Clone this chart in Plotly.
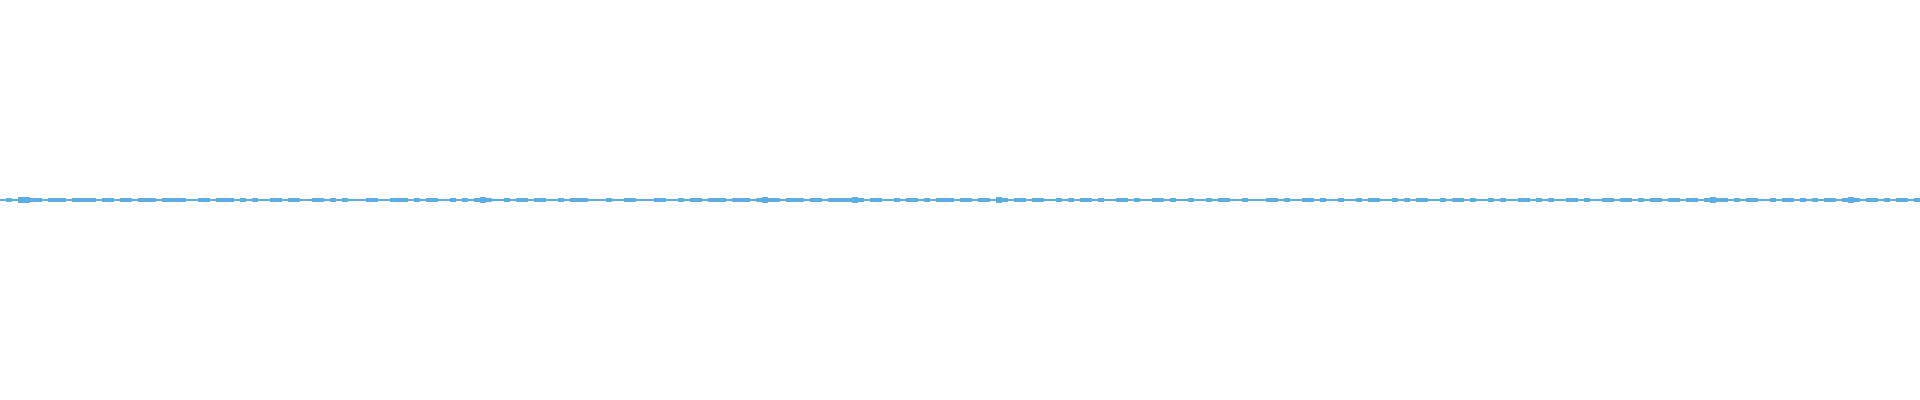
import plotly.graph_objects as go

# Waveform envelope: one peak level per 6-px bucket
# (0 = only the zero line, 1 = small tick, 2 = larger tick)
peaks = [
    0, 1, 0, 2, 2, 1, 1, 0, 1, 1, 1, 0, 1, 1, 1, 1, 0, 1, 1, 0,
    1, 1, 0, 1, 1, 1, 0, 1, 1, 1, 1, 0, 0, 1, 1, 0, 1, 1, 1, 0,
    1, 0, 1, 0, 0, 1, 1, 0, 1, 1, 0, 0, 1, 1, 0, 1, 0, 1, 0, 0,
    0, 1, 1, 0, 0, 1, 1, 1, 0, 1, 0, 1, 1, 0, 0, 1, 0, 1, 0, 1,
    2, 1, 0, 0, 1, 0, 1, 1, 0, 1, 1, 0, 0, 1, 0, 1, 1, 1, 0, 0,
    0, 1, 0, 0, 1, 1, 0, 0, 0, 1, 1, 0, 0, 1, 0, 1, 1, 0, 1, 1,
    1, 0, 1, 1, 1, 0, 1, 2, 1, 1, 0, 1, 1, 1, 0, 1, 1, 0, 1, 1,
    1, 1, 2, 1, 0, 1, 1, 0, 0, 1, 0, 1, 1, 0, 1, 0, 1, 1, 1, 0,
    1, 1, 0, 1, 1, 0, 2, 1, 0, 1, 1, 0, 1, 1, 0, 0, 1, 0, 1, 0,
    1, 1, 0, 1, 0, 0, 1, 1, 0, 1, 0, 0, 1, 1, 0, 1, 0, 0, 1, 0,
    0, 1, 0, 1, 1, 0, 0, 1, 0, 0, 0, 1, 1, 0, 1, 0, 0, 1, 1, 0,
    1, 0, 0, 1, 0, 0, 1, 0, 1, 1, 0, 0, 1, 0, 1, 0, 1, 1, 0, 0,
    1, 0, 1, 1, 0, 1, 0, 0, 1, 0, 1, 0, 0, 1, 1, 0, 1, 0, 1, 0,
    0, 1, 1, 0, 1, 0, 0, 1, 1, 0, 1, 1, 0, 1, 0, 1, 1, 0, 1, 1,
    0, 1, 1, 0, 1, 2, 1, 1, 0, 1, 0, 1, 1, 0, 0, 1, 0, 1, 1, 0,
    1, 0, 1, 0, 1, 1, 0, 1, 2, 1, 0, 1, 1, 0, 1, 0, 1, 1, 0, 1,
]
buckets = list(range(len(peaks)))

COLOR = "#5DADE2"

# tick extents in pixel units around the zero line (line half width = 1)
bases = [-(p + 1) if p else 0 for p in peaks]
heights = [2 * (p + 1) if p else 0 for p in peaks]

fig = go.Figure()
fig.add_trace(go.Scatter(
    x=[-0.5, len(buckets) - 0.5], y=[0, 0], mode="lines",
    line=dict(color=COLOR, width=2), hoverinfo="skip", showlegend=False,
))
fig.add_trace(go.Bar(
    x=buckets, y=heights, base=bases, width=1.0,
    marker=dict(color=COLOR, line=dict(width=0)), showlegend=False,
    hoverinfo="skip",
))

fig.update_layout(
    width=1920, height=400,
    margin=dict(l=0, r=0, t=0, b=0),
    paper_bgcolor="white", plot_bgcolor="white",
    xaxis=dict(visible=False, range=[-0.5, len(buckets) - 0.5], fixedrange=True),
    yaxis=dict(visible=False, range=[-200, 200], fixedrange=True),
    bargap=0,
)

fig.write_html(
    "out.html",
    config={"displayModeBar": False},
    post_script="document.body.style.margin='0';document.body.style.overflow='hidden';",
)
